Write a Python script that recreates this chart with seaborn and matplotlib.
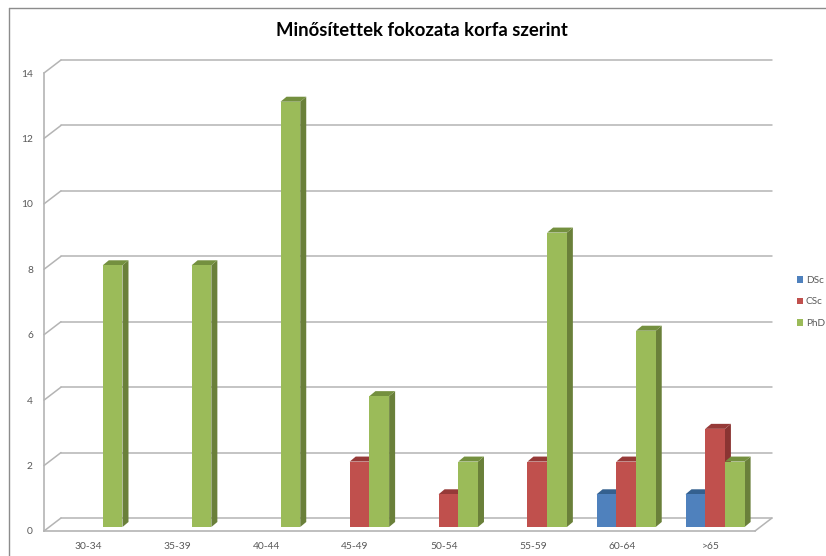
import matplotlib
matplotlib.use("AGG")
import matplotlib.pyplot as plt
from matplotlib.patches import Polygon, Rectangle
import pandas as pd
import seaborn as sns

age_groups = ['30-34', '35-39', '40-44', '45-49', '50-54', '55-59', '60-64', '>65']
dsc = [0, 0, 0, 0, 0, 0, 1, 1]
csc = [0, 0, 0, 2, 1, 2, 2, 3]
phd = [8, 8, 13, 4, 2, 9, 6, 2]
y_ticks = [0, 2, 4, 6, 8, 10, 12, 14]

front_colors = ['#4F81BD', '#C0504D', '#9BBB59']
side_colors = ['#3A6391', '#8A3432', '#6A803A']
top_colors = ['#34608F', '#963A38', '#74903F']
grid_color = '#B4B4B4'
text_color = '#595959'

W, H = 826, 556

sns.set_style('white')
plt.rcParams['font.family'] = ['Lato', 'DejaVu Sans']

df = pd.DataFrame({
    'age': age_groups * 3,
    'degree': ['DSc'] * 8 + ['CSc'] * 8 + ['PhD'] * 8,
    'count': dsc + csc + phd,
})

fig = plt.figure(figsize=(W / 100, H / 100), dpi=100)
fig.patch.set_facecolor('white')
# front plane of the fake 3d box, in pixels
ax = fig.add_axes([44 / W, (H - 531) / H, 711 / W, 458 / H])

sns.barplot(data=df, x='age', y='count', hue='degree', palette=front_colors,
            width=0.665, gap=0, saturation=1, errorbar=None, ax=ax, linewidth=0)
ax.set_xlim(-0.5, 7.5)
ax.set_ylim(0, 14)
ax.set_xlabel('')
ax.set_ylabel('')
ax.set_yticks(y_ticks)
ax.set_facecolor('none')
ax.tick_params(axis='x', length=0, pad=8, labelsize=7.4, labelcolor=text_color)
ax.tick_params(axis='y', length=0, pad=8, labelsize=7.4, labelcolor=text_color)
sns.despine(ax=ax)
for side in ['left', 'bottom']:
    ax.spines[side].set_color(grid_color)
    ax.spines[side].set_linewidth(1.2)

# one pixel in data units
px = 8 / 711
py = 14 / 458
wall_dx, wall_dy = 17 * px, 13 * py
bar_dx, bar_dy = 4.5 * px, 4 * py
depth_x, depth_y = 6 * px, 5 * py

# back wall gridlines and the floor edge
x0, x1 = ax.get_xlim()
for v in y_ticks:
    ax.plot([x0, x0 + wall_dx], [v, v + wall_dy], color=grid_color, lw=1.1, clip_on=False, zorder=1)
    ax.plot([x0 + wall_dx, x1 + wall_dx], [v + wall_dy, v + wall_dy], color=grid_color, lw=1.1,
            clip_on=False, zorder=1)
ax.plot([x1, x1 + wall_dx], [0, wall_dy], color=grid_color, lw=1.1, clip_on=False, zorder=1)

# give the seaborn bars their side and top faces
bars = [p for p in ax.patches if isinstance(p, Rectangle)]
for i, bar in enumerate(bars):
    hue_i = i // len(age_groups)
    z = 3 + hue_i
    if bar.get_height() <= 0:
        bar.set_visible(False)
        continue
    bar.set_x(bar.get_x() + bar_dx)
    bar.set_y(bar_dy)
    bar.set_zorder(z + 0.5)
    bar.set_clip_on(False)
    left = bar.get_x()
    right = left + bar.get_width()
    bottom = bar.get_y()
    top = bottom + bar.get_height()
    ax.add_patch(Polygon([(right, bottom), (right + depth_x, bottom + depth_y),
                          (right + depth_x, top + depth_y), (right, top)],
                         fc=side_colors[hue_i], lw=0, zorder=z, clip_on=False))
    ax.add_patch(Polygon([(left, top), (left + depth_x, top + depth_y),
                          (right + depth_x, top + depth_y), (right, top)],
                         fc=top_colors[hue_i], lw=0, zorder=z, clip_on=False))

sns.move_legend(ax, 'center left', bbox_to_anchor=(797 / W, (H - 302) / H), bbox_transform=fig.transFigure,
                frameon=False, title=None, fontsize=7.2, handlelength=0.6, handleheight=0.6,
                handletextpad=0.3, labelspacing=1.25, labelcolor=text_color, borderpad=0, borderaxespad=0)

fig.text(422 / W, (H - 30) / H, 'Minősítettek fokozata korfa szerint', ha='center', va='center',
         fontsize=13.3, fontweight='bold', color='black')

# chart area frame, only top and left show in the crop
fig.add_artist(plt.Line2D([8.5 / W, 8.5 / W], [0, (H - 7.5) / H], color='#8C8C8C', lw=1))
fig.add_artist(plt.Line2D([8.5 / W, 1], [(H - 7.5) / H, (H - 7.5) / H], color='#8C8C8C', lw=1))

fig.savefig('out.png', dpi=100, facecolor='white')
